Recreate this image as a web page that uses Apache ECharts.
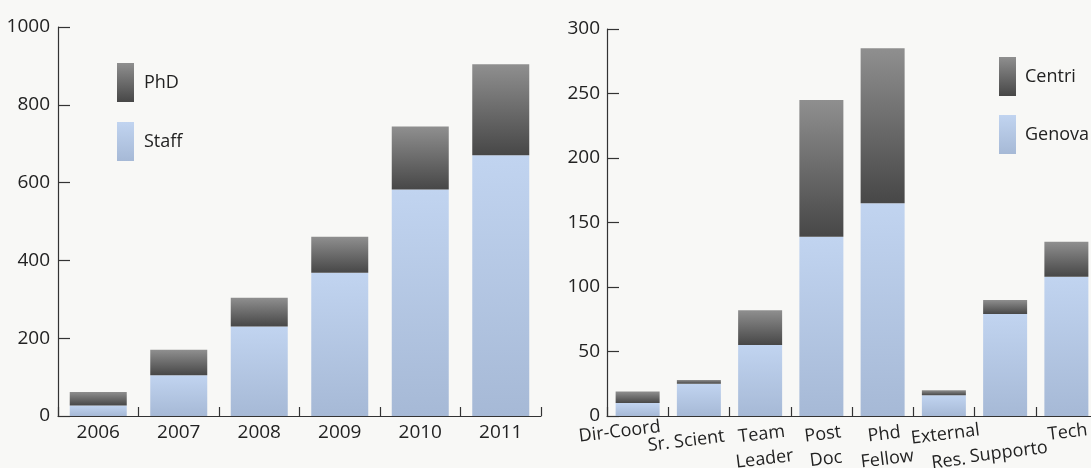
<!DOCTYPE html>
<html>
<head>
<meta charset="utf-8">
<script src="https://cdn.jsdelivr.net/npm/echarts@6/dist/echarts.min.js"></script>
<style>
html,body{margin:0;padding:0;background:#f8f8f6;}
#chart{width:1091px;height:468px;}
</style>
</head>
<body>
<div id="chart"></div>
<script>
// Left chart data
const years = ['2006', '2007', '2008', '2009', '2010', '2011'];
const staff = [27, 105, 230, 368, 582, 670];
const phd = [35, 65, 74, 93, 162, 234];
const leftTicks = [0, 200, 400, 600, 800, 1000];

// Right chart data
const roles = ['Dir-Coord', 'Sr. Scient', 'Team Leader', 'Post Doc', 'Phd Fellow', 'External Res.', 'Supporto', 'Tech'];
const genova = [10, 25, 55, 139, 165, 16, 79, 108];
const centri = [9, 3, 27, 106, 120, 4, 11, 27];
const rightTicks = [0, 50, 100, 150, 200, 250, 300];

const FONT = '"Open Sans", "Noto Sans", sans-serif';
const TXT = '#222222';
const AX = '#333333';

const darkGrad = new echarts.graphic.LinearGradient(0, 0, 0, 1, [
  {offset: 0, color: '#8f8f8f'}, {offset: 1, color: '#474747'}
]);
const blueGrad = new echarts.graphic.LinearGradient(0, 0, 0, 1, [
  {offset: 0, color: '#c1d4f0'}, {offset: 1, color: '#a6b9d6'}
]);

const labelMap = {
  'Dir-Coord': '{dc|Dir-Coord}',
  'Sr. Scient': '{s1| }\n{sr|Sr. Scient}',
  'Team Leader': '{b|Team}\n{b|Leader}',
  'Post Doc': '{b|Post}\n{b|Doc}',
  'Phd Fellow': '{b|Phd}\n{b|Fellow}',
  'External Res.': '{b|External}\n{r|Res.}',
  'Supporto': '{s2| }\n{b|Supporto}',
  'Tech': '{t|Tech}'
};

function numFmt(v) { return String(v); }

const chart = echarts.init(document.getElementById('chart'));
chart.setOption({
  backgroundColor: '#f8f8f6',
  animation: false,
  textStyle: {fontFamily: FONT, color: TXT},
  legend: [
    {
      orient: 'vertical', left: 112, top: 58,
      itemWidth: 17, itemHeight: 39, itemGap: 20, icon: 'rect',
      data: ['PhD', 'Staff'],
      textStyle: {fontSize: 18, color: TXT, fontFamily: FONT, padding: [0, 0, 0, 5]}
    },
    {
      orient: 'vertical', left: 994, top: 52,
      itemWidth: 17, itemHeight: 39, itemGap: 19, icon: 'rect',
      data: ['Centri', 'Genova'],
      textStyle: {fontSize: 18, color: TXT, fontFamily: FONT, padding: [0, 0, 0, 4]}
    }
  ],
  grid: [
    {left: 58, top: 27, width: 483, height: 389, outerBoundsMode: 'none', containLabel: false},
    {left: 607, top: 29, width: 490, height: 387, outerBoundsMode: 'none', containLabel: false}
  ],
  xAxis: [
    {
      type: 'category', gridIndex: 0, data: years,
      axisLine: {lineStyle: {color: AX, width: 1.2}},
      axisTick: {show: true, inside: true, length: 9, lineStyle: {color: AX, width: 1.2}},
      axisLabel: {fontSize: 19, color: TXT, fontFamily: FONT, margin: 7}
    },
    {
      type: 'category', gridIndex: 1, data: roles,
      axisLine: {lineStyle: {color: AX, width: 1.2}},
      axisTick: {show: true, inside: true, length: 9, lineStyle: {color: AX, width: 1.2}},
      axisLabel: {
        interval: 0, rotate: 7, align: 'center', verticalAlign: 'top', margin: 6,
        fontSize: 18, color: TXT, fontFamily: FONT, lineHeight: 25,
        formatter: function (v) { return labelMap[v] || v; },
        rich: {
          b: {fontSize: 18, lineHeight: 25, color: TXT, fontFamily: FONT},
          r: {fontSize: 18, lineHeight: 29, color: TXT, fontFamily: FONT},
          t: {fontSize: 18, lineHeight: 21, color: TXT, fontFamily: FONT},
          dc: {fontSize: 18, lineHeight: 15, color: TXT, fontFamily: FONT, padding: [0, 38, 0, 0]},
          sr: {fontSize: 18, lineHeight: 23, color: TXT, fontFamily: FONT, padding: [0, 30, 0, 0]},
          s1: {fontSize: 1, lineHeight: 6},
          s2: {fontSize: 1, lineHeight: 18}
        }
      }
    }
  ],
  yAxis: [
    {
      type: 'value', gridIndex: 0, min: leftTicks[0], max: leftTicks[leftTicks.length - 1], interval: 200,
      axisLine: {show: true, lineStyle: {color: AX, width: 1.2}},
      axisTick: {show: true, inside: true, length: 12, lineStyle: {color: AX, width: 1.2}},
      splitLine: {show: false},
      axisLabel: {fontSize: 19, color: TXT, fontFamily: FONT, margin: 8, formatter: numFmt}
    },
    {
      type: 'value', gridIndex: 1, min: rightTicks[0], max: rightTicks[rightTicks.length - 1], interval: 50,
      axisLine: {show: true, lineStyle: {color: AX, width: 1.2}},
      axisTick: {show: true, inside: true, length: 12, lineStyle: {color: AX, width: 1.2}},
      splitLine: {show: false},
      axisLabel: {fontSize: 19, color: TXT, fontFamily: FONT, margin: 7, formatter: numFmt}
    }
  ],
  series: [
    {name: 'Staff', type: 'bar', stack: 'a', xAxisIndex: 0, yAxisIndex: 0, data: staff, barWidth: 57, itemStyle: {color: blueGrad}},
    {name: 'PhD', type: 'bar', stack: 'a', xAxisIndex: 0, yAxisIndex: 0, data: phd, barWidth: 57, itemStyle: {color: darkGrad}},
    {name: 'Genova', type: 'bar', stack: 'b', xAxisIndex: 1, yAxisIndex: 1, data: genova, barWidth: 44, itemStyle: {color: blueGrad}},
    {name: 'Centri', type: 'bar', stack: 'b', xAxisIndex: 1, yAxisIndex: 1, data: centri, barWidth: 44, itemStyle: {color: darkGrad}}
  ]
});
</script>
</body>
</html>
